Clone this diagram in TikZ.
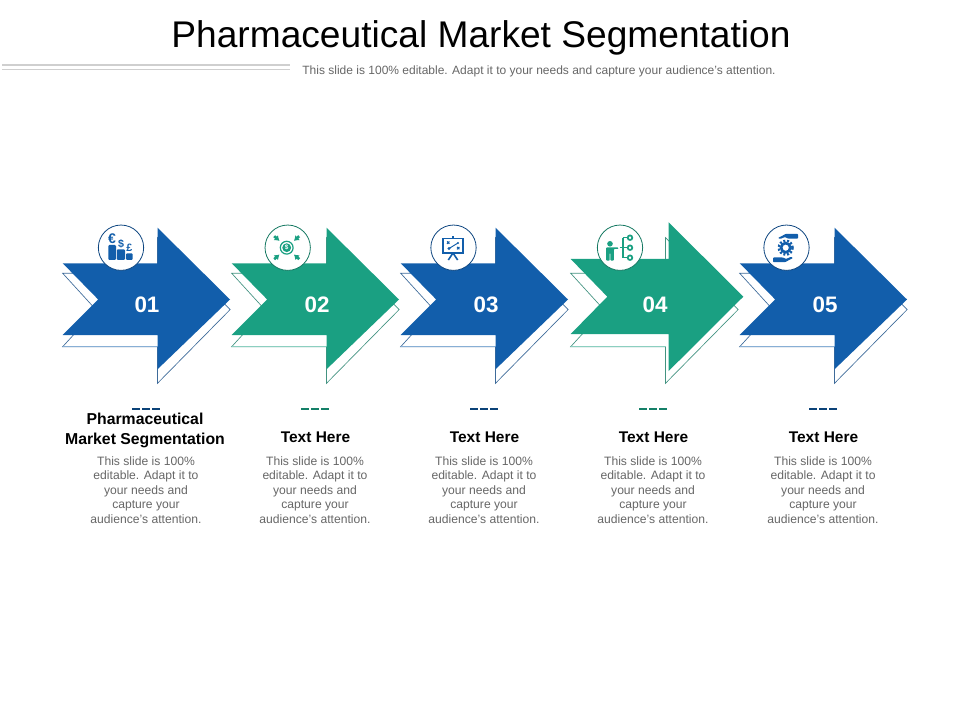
\documentclass[tikz,border=0pt]{standalone}
\usepackage{fontspec}
\usetikzlibrary{arrows.meta}
\setmainfont{Liberation Sans}
\definecolor{arrowblue}{HTML}{125EAB}
\definecolor{arrowgreen}{HTML}{1AA082}
\definecolor{bodygrey}{HTML}{666666}
\definecolor{rulegrey}{HTML}{CFCFCF}
\tikzset{
	mainarrow/.style={fill=#1,draw=none},
	shadearrow/.style={fill=white,draw=#1!60!gray,line width=0.5pt,line join=miter},
	shadebase/.style={draw=#1!50!white,line width=1pt},
	iconring/.style={circle,fill=white,draw=#1!75!black,line width=0.6pt,minimum size=34pt,inner sep=0pt},
	numlabel/.style={text=white,font=\bfseries\fontsize{16.8}{18}\selectfont},
	headlabel/.style={text=black,align=center,font=\bfseries\fontsize{11.6}{14.4}\selectfont},
	bodylabel/.style={text=bodygrey,align=center,font=\fontsize{9.1}{10.85}\selectfont},
	dashbar/.style={line width=1.3pt,dash pattern=on 6pt off 1.5pt}
}
\begin{document}
\begin{tikzpicture}[x=0.75pt,y=-0.75pt]
	\useasboundingbox (0,0) rectangle (960,720);
	\node (title) at (481,38) {\fontsize{27.85}{30}\selectfont Pharmaceutical Market Segmentation};
	\node[text=bodygrey] (subtitle) at (539,71) {\fontsize{9}{11}\selectfont This slide is 100\% editable. Adapt it to your needs and capture your audience's attention.};
	\draw[rulegrey,line width=1.4pt] (2,65) -- (290,65);
	\draw[rulegrey,line width=1.4pt] (2,69.5) -- (290,69.5);
	\foreach \x/\c in {62.7/arrowblue,231.7/arrowgreen,400.7/arrowblue,570.7/arrowgreen,739.7/arrowblue}
	{
		\draw[shadearrow=\c,shift={(\x,0)}] (0,273.3) -- (33.5,310) -- (0,346.7) -- (94.8,346.7) -- (94.8,383.3) -- (167.5,309.5) -- (94.8,237.7) -- (94.8,273.3) -- cycle;
		\draw[shadebase=\c,shift={(\x,0)}] (0,346.7) -- (94.8,346.7);
	}
	\foreach \x/\c in {62.7/arrowblue,231.7/arrowgreen,400.7/arrowblue,739.7/arrowblue}
	\fill[mainarrow=\c,shift={(\x,0)}] (0,263.3) -- (35.5,299.5) -- (0,335) -- (94.8,335) -- (94.8,369.3) -- (167.3,299.5) -- (94.8,227.7) -- (94.8,263.3) -- cycle;
	\fill[mainarrow=arrowgreen] (570.7,259) -- (607.3,296.7) -- (570.7,334) -- (668.7,334) -- (668.7,371) -- (743.3,296.7) -- (668.7,222.3) -- (668.7,259) -- cycle;
	\foreach \n/\x/\y/\r/\c in {01/147/305/121/arrowblue,02/317/305/287.7/arrowgreen,03/486/305/453.5/arrowblue,04/655/305/620/arrowgreen,05/825/305/786.5/arrowblue}
	{
		\node[numlabel] (num\n) at (\x,\y) {\n};
		\node[iconring=\c] (ring\n) at (\r,247.7) {};
	}
	\foreach \n/\x/\c in {01/146/arrowblue!70!black,02/315/arrowgreen!80!black,03/484/arrowblue!70!black,04/653/arrowgreen!80!black,05/823/arrowblue!70!black}
	{
		\coordinate (dashl\n) at (\x-14,409);
		\coordinate (dashr\n) at (\x+14,409);
		\draw[dashbar,\c] (dashl\n) -- (dashr\n);
		\node[bodylabel] (body\n) at (\x,490) {This slide is 100\%\\editable. Adapt it to\\your needs and\\capture your\\audience's attention.};
	}
	\node[headlabel,font=\bfseries\fontsize{11.85}{14.4}\selectfont] (head01) at (145,430.5) {Pharmaceutical\\Market Segmentation};
	\foreach \n/\x in {02/315.5,03/484.5,04/653.5,05/823.5}
	\node[headlabel] (head\n) at (\x,437) {Text Here};
	% icon 01
	\fill[arrowblue,rounded corners=0.8pt] (108.3,260) -- (108.3,245) -- (116,245) -- (116,260) -- cycle;
	\fill[arrowblue,rounded corners=0.8pt] (116.8,260) -- (116.8,249.3) -- (125,249.3) -- (125,260) -- cycle;
	\fill[arrowblue,rounded corners=0.8pt] (126,260) -- (126,253.3) -- (132.7,253.3) -- (132.7,260) -- cycle;
	\node[text=arrowblue,inner sep=0pt] (euro) at (112,239) {\bfseries\fontsize{10.5}{10}\selectfont €};
	\node[text=arrowblue,inner sep=0pt] (dollar) at (121,243.8) {\bfseries\fontsize{8}{8}\selectfont \$};
	\node[text=arrowblue,inner sep=0pt] (pound) at (129.3,248) {\bfseries\fontsize{8}{8}\selectfont £};
	% icon 02
	\draw[arrowgreen,line width=0.9pt] (286.7,247.7) circle (6.4);
	\fill[arrowgreen] (286.7,247.7) circle (4.4);
	\node[text=white,inner sep=0pt] (coin) at (286.7,247.7) {\bfseries\fontsize{4.8}{5}\selectfont \$};
	\foreach \a/\b in {-1/-1,1/-1,-1/1,1/1}
	\draw[arrowgreen,line width=2pt,-{Latex[length=3.6pt,width=5pt]}] (286.7+\a*12.5,247.7+\b*11.5) -- (286.7+\a*7.2,247.7+\b*6.8);
	% icon 03
	\draw[arrowblue,line width=1.2pt] (443,238.5) rectangle (463,253);
	\draw[arrowblue,line width=2pt] (442.5,253) -- (463.5,253);
	\draw[arrowblue,line width=1.1pt] (453,238.5) -- (453,236);
	\draw[arrowblue,line width=1.2pt] (453,253) -- (448.3,260);
	\draw[arrowblue,line width=1.2pt] (453,253) -- (457.7,260);
	\draw[arrowblue,line width=0.7pt] (449,248.5) -- (458,243);
	\fill[arrowblue] (449,248.5) circle (1.6) (458,243) circle (1.2);
	\draw[arrowblue,line width=0.8pt] (447,241.5) -- (449.4,243.8) (449.4,241.5) -- (447,243.8);
	\draw[arrowblue,line width=0.8pt] (457,247) -- (459.4,249.3) (459.4,247) -- (457,249.3);
	% icon 04
	\fill[arrowgreen] (610,243.8) circle (2.8);
	\fill[arrowgreen,rounded corners=0.6pt] (606.2,260.7) -- (606.2,247.3) -- (618.3,247.3) -- (618.3,249) -- (613.8,249) -- (613.8,260.7) -- (610.4,260.7) -- (610.4,253) -- (609.6,253) -- (609.6,260.7) -- cycle;
	\draw[arrowgreen,line width=1.3pt] (622.7,237.7) -- (622.7,257.7);
	\draw[arrowgreen,line width=1.2pt] (619.5,247.7) -- (627.8,247.7);
	\foreach \y in {237.7,247.7,257.7}
	{
		\draw[arrowgreen,line width=1.1pt] (622.7,\y) -- (627.8,\y);
		\draw[arrowgreen,line width=1.3pt] (630,\y) circle (2.3);
	}
	% icon 05
	\draw[arrowblue,line width=1.8pt,dash pattern=on 1.5pt off 1.3pt] (785.7,247.7) circle (6.9);
	\draw[arrowblue,line width=2pt] (785.7,247.7) circle (4.6);
	\fill[arrowblue,rounded corners=0.6pt] (798,233.8) -- (786,233.8) -- (778,238) -- (780,239) -- (785,237) -- (788,238.6) -- (798,238.6) -- cycle;
	\fill[arrowblue,rounded corners=0.6pt] (773,257.5) -- (783,257.5) -- (786,259) -- (791,256.8) -- (793,258) -- (785,262.2) -- (773,262.2) -- cycle;
\end{tikzpicture}
\end{document}
